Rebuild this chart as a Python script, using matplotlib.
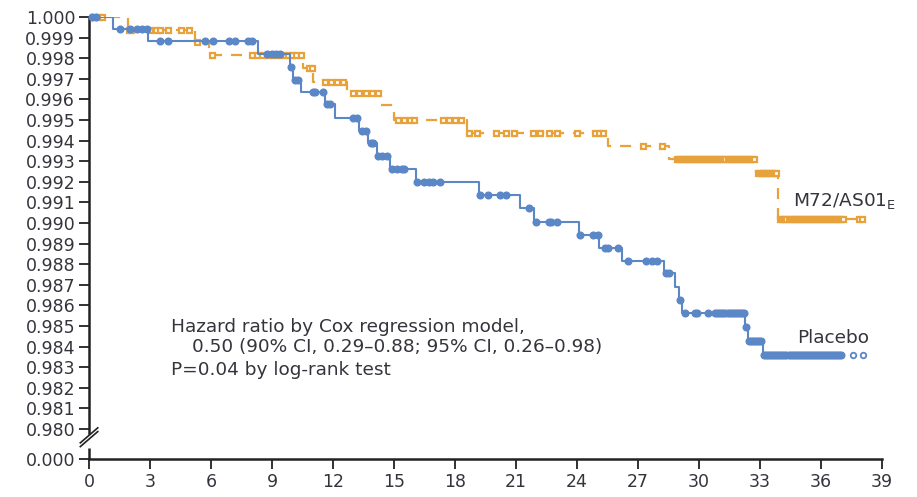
import numpy as np
import matplotlib.pyplot as plt

plt.rcParams['font.family'] = ['DejaVu Sans']
plt.rcParams['mathtext.fontset'] = 'dejavusans'

# Kaplan-Meier steps (months, survival)
placebo_t = [0, 1.2, 2.9, 8.3, 9.9, 10.05, 10.4, 11.6, 12.1, 13.3, 13.7, 14.15, 14.8,
             16.1, 19.2, 21.2, 21.9, 24.1, 25.1, 26.2, 28.3, 28.8, 29.0, 29.15,
             32.25, 32.4, 33.15, 37.0]
placebo_s = [1.0, 0.99942, 0.99883, 0.9982, 0.99757, 0.99694, 0.99636, 0.99578, 0.9951,
             0.99447, 0.99388, 0.99325, 0.99262, 0.992, 0.99136, 0.99073, 0.99005,
             0.98942, 0.98879, 0.98816, 0.98757, 0.98689, 0.98626, 0.98563,
             0.98495, 0.98427, 0.9836, 0.9836]

vaccine_t = [0, 1.9, 5.2, 5.9, 10.5, 11.0, 12.7, 14.3, 15.0, 18.6, 25.5, 28.5, 32.8, 33.9, 38.1]
vaccine_s = [1.0, 0.99937, 0.99879, 0.99816, 0.9975, 0.99684, 0.99631, 0.99573, 0.995,
             0.99437, 0.99374, 0.9931, 0.99243, 0.99019, 0.99019]

# censoring times
placebo_cens = [0.15, 0.35, 1.5, 2.0, 2.35, 2.6, 2.85, 3.5, 3.9, 5.7, 6.1, 6.9, 7.2, 7.8,
                8.0, 8.75, 9.0, 9.2, 9.4, 9.95, 10.15, 10.3, 11.0, 11.1, 11.5, 11.7, 11.85,
                13.0, 13.2, 13.4, 13.6, 13.85, 13.95, 14.2, 14.4, 14.65, 14.9, 15.15, 15.4,
                15.5, 16.15, 16.45, 16.7, 16.9, 17.25, 19.25, 19.6, 20.2, 20.5, 21.65,
                22.0, 22.6, 22.7, 23.0, 24.15, 24.8, 25.05, 25.35, 25.5, 26.0, 26.5, 27.4,
                27.7, 27.95, 28.35, 28.5, 29.05, 29.3, 29.8, 29.9, 30.45,
                30.8, 30.9, 31.0, 31.1, 31.2, 31.3, 31.4, 31.5, 31.6, 31.7, 31.8, 31.9,
                32.0, 32.1, 32.2, 32.3, 32.45, 32.55, 32.65, 32.75, 32.85, 32.95, 33.05,
                33.2, 33.3, 33.4, 33.5, 33.6, 33.7, 33.8, 33.9, 34.0, 34.1, 34.2, 34.3,
                34.4, 34.5, 34.6, 34.7, 34.8, 34.9, 35.0, 35.1, 35.2, 35.3, 35.4, 35.5,
                35.6, 35.7, 35.8, 35.9, 36.0, 36.1, 36.2, 36.3, 36.4, 36.5, 36.6, 36.7,
                36.8, 36.9, 37.0]
placebo_open = [37.55, 38.05]

vaccine_cens = [0.2, 0.5, 0.65, 1.95, 2.05, 3.0, 3.3, 3.5, 3.9, 4.5, 4.9, 5.3, 6.05, 8.0,
                8.25, 8.5, 8.8, 9.0, 9.2, 9.4, 9.55, 9.8, 10.0, 10.2, 10.4, 10.8, 10.95,
                11.6, 11.9, 12.2, 12.5, 13.0, 13.3, 13.6, 13.9, 14.2, 15.2, 15.5, 15.8,
                16.0, 17.4, 17.7, 18.0, 18.3, 18.7, 19.1, 20.0, 20.5, 20.9, 21.85, 22.2,
                22.6, 23.0, 24.0, 24.9, 25.1, 25.3, 27.25, 28.2,
                28.9, 29.0, 29.1, 29.2, 29.3, 29.4, 29.5, 29.6, 29.7, 29.8, 29.9, 30.0,
                30.1, 30.2, 30.3, 30.4, 30.5, 30.6, 30.7, 30.8, 30.9, 31.0, 31.1, 31.2,
                31.3, 31.4, 31.5, 31.6, 31.7, 31.8, 31.9, 32.0, 32.1, 32.2, 32.3, 32.4,
                32.5, 32.6, 32.7, 32.9, 33.0, 33.1, 33.2, 33.3, 33.4, 33.5, 33.6, 33.7,
                33.8, 34.0, 34.1, 34.2, 34.3, 34.4, 34.5, 34.6, 34.7, 34.8, 34.9, 35.0,
                35.1, 35.2, 35.3, 35.4, 35.5, 35.6, 35.7, 35.8, 35.9, 36.0, 36.1, 36.2,
                36.3, 36.4, 36.5, 36.6, 36.7, 36.8, 36.9, 37.0, 37.1, 37.85, 38.0]

x_ticks = [0, 3, 6, 9, 12, 15, 18, 21, 24, 27, 30, 33, 36, 39]
y_ticks = [0.980, 0.981, 0.982, 0.983, 0.984, 0.985, 0.986, 0.987, 0.988, 0.989, 0.990,
           0.991, 0.992, 0.993, 0.994, 0.995, 0.996, 0.997, 0.998, 0.999, 1.000]
y_zero = 0.97854  # where 0.000 sits below the axis break

blue = '#5b87c6'
orange = '#e8a23c'
dark = '#222222'
txt = '#34343c'


def surv_at(times, steps_t, steps_s):
    idx = np.searchsorted(steps_t, times, side='right') - 1
    return np.array(steps_s)[idx]


fig = plt.figure(figsize=(9.17, 4.97), dpi=100)
ax = fig.add_axes([0.0971, 0.0765, 0.8648, 0.8893])

ax.step(vaccine_t, vaccine_s, where='post', color=orange, lw=1.6, dashes=(5, 4), zorder=2)
ax.step(placebo_t, placebo_s, where='post', color=blue, lw=1.5, zorder=3)

ax.plot(vaccine_cens, surv_at(vaccine_cens, vaccine_t, vaccine_s), 's', ms=3.6, mfc='white',
        mec=orange, mew=1.6, ls='none', zorder=2, clip_on=False)
ax.plot(placebo_cens, surv_at(placebo_cens, placebo_t, placebo_s), 'o', ms=4.8, color=blue,
        ls='none', zorder=4, clip_on=False)
ax.plot(placebo_open, surv_at(placebo_open, placebo_t, placebo_s), 'o', ms=4, mfc='white',
        mec=blue, mew=1.3, ls='none', zorder=4, clip_on=False)

ax.set_xlim(0, 39)
ax.set_ylim(y_zero, 1.0)
ax.set_xticks(x_ticks)
ax.set_yticks([y_zero] + y_ticks)
ax.set_yticklabels(['0.000'] + [f'{v:.3f}' for v in y_ticks])

for s in ['top', 'right']:
    ax.spines[s].set_visible(False)
for s in ['left', 'bottom']:
    ax.spines[s].set_color(dark)
    ax.spines[s].set_linewidth(1.8)
ax.spines['left'].set_bounds(0.9798, 1.0)
ax.plot([0, 0], [y_zero, 0.97907], color=dark, lw=1.8, clip_on=False, solid_capstyle='butt')
# break marks
for dy in [0.0, 0.0085]:
    ax.plot([-0.011, 0.011], [0.028 + dy, 0.062 + dy], transform=ax.transAxes,
            color=dark, lw=1.2, clip_on=False)

ax.tick_params(axis='both', direction='out', length=7, width=1.3, color=dark,
               labelsize=12.5, labelcolor=txt, pad=3)

txt_kw = dict(fontsize=13.3, color=txt, va='center')
ax.text(4.05, 0.98495, 'Hazard ratio by Cox regression model,', **txt_kw)
ax.text(5.05, 0.98398, '0.50 (90% CI, 0.29\u20130.88; 95% CI, 0.26\u20130.98)', **txt_kw)
ax.text(4.05, 0.98286, 'P=0.04 by log-rank test', **txt_kw)

ax.text(34.8, 0.98442, 'Placebo', **txt_kw)
ax.text(34.6, 0.99105, 'M72/AS01$_\\mathregular{E}$', **txt_kw)

fig.savefig('out.png', dpi=100)
